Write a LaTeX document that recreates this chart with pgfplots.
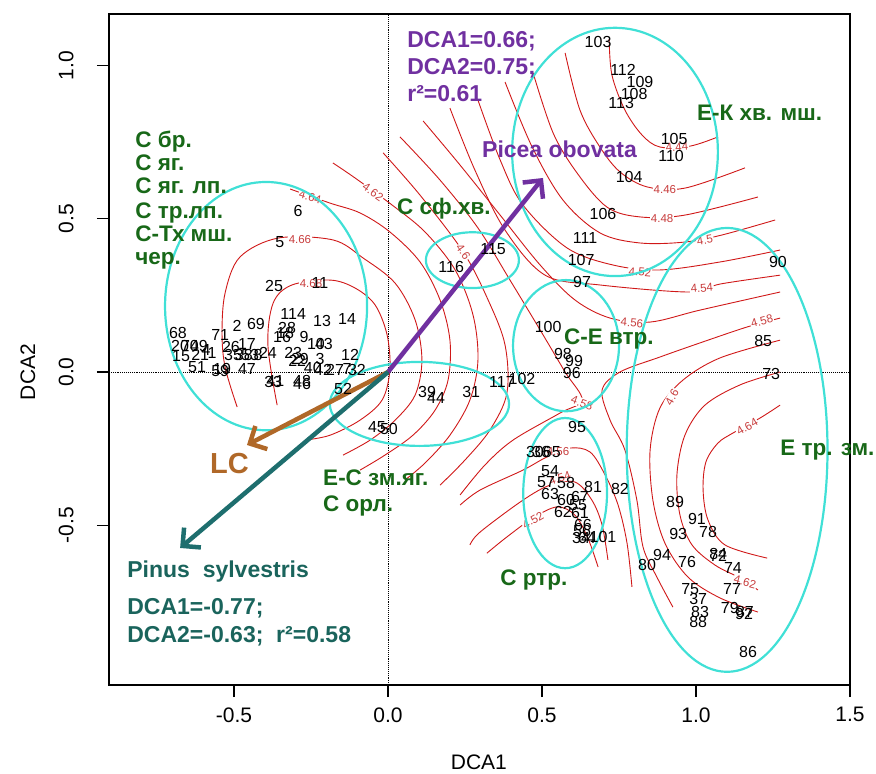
\documentclass[border=0pt]{standalone}
\usepackage{fontspec}
\setmainfont{Liberation Sans}
\usepackage{pgfplots}
\pgfplotsset{compat=1.18}
\usetikzlibrary{arrows.meta}
\definecolor{ellc}{RGB}{64,224,214}
\definecolor{contc}{RGB}{208,24,24}
\definecolor{clab}{RGB}{200,60,60}
\definecolor{grp}{RGB}{24,104,24}
\definecolor{purp}{RGB}{112,48,160}
\definecolor{pinus}{RGB}{26,100,92}
\definecolor{pinarr}{RGB}{30,110,110}
\definecolor{lcc}{RGB}{176,104,40}
\newcommand\gfont{\fontsize{22.5}{22.5}\selectfont\bfseries}
\newcommand\pfont{\fontsize{23}{23}\selectfont\bfseries}
\newcommand\cl{\fontsize{11.5}{11.5}\selectfont}
\begin{document}
\begin{tikzpicture}
\useasboundingbox (-109pt,-89pt) rectangle (767pt,685pt);
\begin{axis}[
  at={(0pt,0pt)}, anchor=south west,
  width=741pt, height=671pt, scale only axis,
  xmin=-0.906, xmax=1.5, ymin=-1.021, ymax=1.168,
  xtick={-0.5,0,0.5,1,1.5}, ytick={-0.5,0,0.5,1},
  xticklabels={-0.5,0.0,0.5,1.0,1.5}, yticklabels={-0.5,0.0,0.5,1.0},
  tick pos=left, tick align=outside, major tick length=12pt,
  every tick/.style={black, line width=1.2pt},
  axis line style={line width=1.2pt},
  ticklabel style={font=\fontsize{21}{21}\selectfont},
  xticklabel style={yshift=-7pt},
  yticklabel style={rotate=90, anchor=south, yshift=20pt},
  clip=false,
  cont/.style={contc, line width=0.9pt, smooth, tension=0.55, mark=none},
]
% reference lines
\draw[densely dotted, line width=0.9pt] (axis cs:0,-1.021) -- (axis cs:0,1.168);
\draw[densely dotted, line width=0.9pt] (axis cs:-0.906,0) -- (axis cs:1.5,0);

% contours around the upper right minimum
\addplot[cont] coordinates {(0.718,1.086) (0.727,0.969) (0.769,0.855) (0.825,0.773) (0.883,0.734) (0.981,0.737) (1.071,0.767)};
\addplot[cont] coordinates {(0.575,1.041) (0.623,0.855) (0.688,0.734) (0.753,0.653) (0.841,0.604) (0.964,0.600) (1.159,0.666)};
\addplot[cont] coordinates {(0.471,0.976) (0.536,0.780) (0.614,0.649) (0.711,0.538) (0.818,0.506) (0.964,0.512) (1.201,0.571)};
\addplot[cont] coordinates {(0.380,0.946) (0.468,0.734) (0.568,0.561) (0.688,0.454) (0.818,0.421) (0.964,0.424) (1.084,0.447) (1.257,0.496)};
\addplot[cont] coordinates {(0.292,0.887) (0.364,0.692) (0.438,0.545) (0.581,0.405) (0.731,0.349) (0.883,0.333) (1.078,0.359) (1.273,0.398)};
\addplot[cont] coordinates {(0.201,0.861) (0.282,0.659) (0.380,0.463) (0.510,0.316) (0.688,0.284) (0.981,0.261) (1.078,0.287) (1.273,0.316)};
\addplot[cont] coordinates {(0.114,0.819) (0.234,0.675) (0.364,0.512) (0.494,0.349) (0.607,0.235) (0.721,0.176) (0.851,0.163) (1.013,0.202) (1.273,0.261)};
% 4.58 right piece
\addplot[cont] coordinates {(1.273,0.176) (1.166,0.147) (1.013,0.095) (0.883,0.049) (0.753,0.000) (0.695,-0.059) (0.721,-0.157) (0.769,-0.254) (0.808,-0.418) (0.828,-0.571) (0.873,-0.669) (0.925,-0.767)};
% left family
\addplot[cont] coordinates {(0.039,0.767) (0.169,0.626) (0.292,0.470) (0.396,0.300) (0.494,0.137) (0.575,0.000) (0.630,-0.091) (0.558,-0.134) (0.406,-0.222) (0.315,-0.303) (0.234,-0.401)};
\addplot[cont] coordinates {(-0.016,0.715) (0.104,0.577) (0.244,0.392) (0.325,0.235) (0.380,0.088) (0.386,-0.069) (0.331,-0.189) (0.250,-0.287) (0.169,-0.369)};
\addplot[cont] coordinates {(-0.179,0.682) (-0.107,0.633) (0.013,0.545) (0.120,0.457) (0.218,0.333) (0.276,0.186) (0.292,0.039) (0.266,-0.091) (0.201,-0.206) (0.120,-0.297) (0.055,-0.352)};
\addplot[cont] coordinates {(-0.318,0.597) (-0.188,0.551) (-0.091,0.519) (0.006,0.457) (0.104,0.359) (0.169,0.235) (0.201,0.104) (0.195,-0.026) (0.153,-0.124) (0.081,-0.206) (-0.010,-0.271) (-0.091,-0.320)};
\addplot[cont] coordinates {(-0.490,-0.114) (-0.529,0.016) (-0.539,0.127) (-0.529,0.258) (-0.481,0.375) (-0.357,0.437) (-0.179,0.431) (-0.081,0.372) (0.023,0.290) (0.088,0.170) (0.110,0.039) (0.088,-0.075) (0.023,-0.157) (-0.058,-0.222) (-0.146,-0.271)};
\addplot[cont] coordinates {(-0.360,-0.108) (-0.390,0.088) (-0.373,0.225) (-0.312,0.284) (-0.188,0.300) (-0.107,0.274) (-0.042,0.219) (-0.003,0.121) (0.006,0.007) (-0.019,-0.091) (-0.091,-0.157) (-0.188,-0.206) (-0.269,-0.222)};
% lower middle
\addplot[cont] coordinates {(0.234,-0.434) (0.299,-0.385) (0.438,-0.320) (0.516,-0.277) (0.591,-0.248) (0.656,-0.261) (0.705,-0.336) (0.747,-0.434) (0.776,-0.558) (0.792,-0.701)};
\addplot[cont] coordinates {(0.266,-0.564) (0.299,-0.522) (0.438,-0.418) (0.526,-0.369) (0.607,-0.359) (0.662,-0.418) (0.695,-0.499) (0.714,-0.613)};
\addplot[cont] coordinates {(0.321,-0.591) (0.386,-0.538) (0.471,-0.476) (0.549,-0.440) (0.607,-0.467) (0.649,-0.542) (0.682,-0.636)};
% lower right maximum
\addplot[cont] coordinates {(1.273,0.104) (1.078,0.046) (0.958,-0.026) (0.883,-0.117) (0.851,-0.254) (0.860,-0.418) (0.899,-0.558) (0.974,-0.669) (1.078,-0.737) (1.201,-0.783)};
\addplot[cont] coordinates {(1.273,0.000) (1.143,-0.042) (1.029,-0.108) (0.964,-0.206) (0.938,-0.336) (0.948,-0.467) (0.987,-0.564) (1.062,-0.630) (1.143,-0.672) (1.201,-0.711)};
\addplot[cont] coordinates {(1.273,-0.108) (1.208,-0.150) (1.120,-0.199) (1.071,-0.232) (1.032,-0.294) (1.023,-0.385) (1.039,-0.483) (1.094,-0.564) (1.231,-0.607)};

% contour labels
\begin{scope}[every node/.style={clab, font=\cl, fill=white, inner sep=0.8pt}]
\node[rotate=5] at (axis cs:0.938,0.734) {4.44};
\node at (axis cs:0.899,0.594) {4.46};
\node at (axis cs:0.890,0.502) {4.48};
\node[rotate=10] at (axis cs:1.029,0.431) {4.5};
\node[rotate=-5] at (axis cs:0.818,0.326) {4.52};
\node[rotate=5] at (axis cs:1.019,0.274) {4.54};
\node[rotate=-5] at (axis cs:0.792,0.160) {4.56};
\node[rotate=15] at (axis cs:1.214,0.166) {4.58};
\node[rotate=-20] at (axis cs:0.630,-0.101) {4.58};
\node[rotate=-55] at (axis cs:0.244,0.392) {4.6};
\node[rotate=-35] at (axis cs:-0.049,0.587) {4.62};
\node[rotate=-15] at (axis cs:-0.253,0.571) {4.64};
\node at (axis cs:-0.286,0.431) {4.66};
\node at (axis cs:-0.250,0.290) {4.68};
\node[rotate=60] at (axis cs:0.922,-0.082) {4.6};
\node[rotate=-15] at (axis cs:1.159,-0.685) {4.62};
\node[rotate=30] at (axis cs:1.166,-0.179) {4.64};
\node at (axis cs:0.552,-0.261) {4.56};
\node[rotate=20] at (axis cs:0.558,-0.346) {4.54};
\node[rotate=30] at (axis cs:0.471,-0.483) {4.52};
\end{scope}

% ellipses
\draw[ellc, line width=2.2pt] (axis cs:-0.396,0.215) ellipse [x radius=0.328, y radius=0.405];
\draw[ellc, line width=2.2pt] (axis cs:0.737,0.718) ellipse [x radius=0.334, y radius=0.405];
\draw[ellc, line width=2.2pt] (axis cs:0.274,0.365) ellipse [x radius=0.151, y radius=0.091];
\draw[ellc, line width=2.2pt] (axis cs:0.578,0.086) ellipse [x radius=0.172, y radius=0.214];
\draw[ellc, line width=2.2pt] (axis cs:0.102,-0.104) ellipse [x radius=0.291, y radius=0.137];
\draw[ellc, line width=2.2pt] (axis cs:0.575,-0.395) ellipse [x radius=0.136, y radius=0.245];
\draw[ellc, line width=2.2pt] (axis cs:1.101,-0.254) ellipse [x radius=0.326, y radius=0.724];

% point labels
\addplot[draw=none, mark=none, nodes near coords, point meta=explicit symbolic,
  every node near coord/.append style={anchor=center, font=\fontsize{16}{16}\selectfont, inner sep=0pt, text=black}]
  table[meta=lab, row sep=\\] {
x y lab\\
0.682 1.077 103\\
0.763 0.985 112\\
0.818 0.946 109\\
0.799 0.907 108\\
0.757 0.878 113\\
0.929 0.760 105\\
0.919 0.705 110\\
0.783 0.636 104\\
0.698 0.516 106\\
0.640 0.437 111\\
0.627 0.365 107\\
0.630 0.294 97\\
1.266 0.359 90\\
1.218 0.101 85\\
1.244 -0.007 73\\
0.205 0.343 116\\
0.341 0.401 115\\
0.520 0.147 100\\
0.568 0.059 98\\
0.604 0.036 99\\
0.597 -0.003 96\\
0.435 -0.023 102\\
0.370 -0.033 117\\
0.127 -0.065 39\\
0.156 -0.085 44\\
0.270 -0.065 31\\
-0.036 -0.179 45\\
0.003 -0.186 50\\
-0.146 -0.055 52\\
0.614 -0.179 95\\
0.477 -0.261 30\\
0.497 -0.261 36\\
0.532 -0.261 65\\
0.526 -0.323 54\\
0.513 -0.359 57\\
0.578 -0.362 58\\
0.526 -0.398 63\\
0.666 -0.375 81\\
0.753 -0.382 82\\
0.578 -0.418 60\\
0.623 -0.408 67\\
0.617 -0.434 55\\
0.568 -0.457 62\\
0.623 -0.460 61\\
0.633 -0.499 66\\
0.630 -0.519 56\\
0.627 -0.542 34\\
0.646 -0.542 64\\
0.698 -0.538 101\\
0.932 -0.424 89\\
1.003 -0.480 91\\
1.039 -0.522 78\\
0.942 -0.529 93\\
0.890 -0.597 94\\
0.971 -0.620 76\\
0.841 -0.630 80\\
1.072 -0.594 84\\
1.072 -0.600 72\\
1.120 -0.640 74\\
1.117 -0.708 77\\
0.981 -0.708 75\\
1.007 -0.741 37\\
1.110 -0.770 79\\
1.159 -0.783 87\\
1.156 -0.790 92\\
1.013 -0.783 83\\
1.007 -0.816 88\\
1.169 -0.914 86\\
-0.292 0.525 6\\
-0.351 0.424 5\\
-0.370 0.281 25\\
-0.221 0.290 11\\
-0.308 0.189 114\\
-0.214 0.166 13\\
-0.133 0.173 14\\
-0.490 0.150 2\\
-0.429 0.157 69\\
-0.328 0.144 28\\
-0.344 0.114 16\\
-0.334 0.127 18\\
-0.273 0.114 9\\
-0.234 0.091 10\\
-0.208 0.091 43\\
-0.123 0.055 12\\
-0.682 0.127 68\\
-0.675 0.085 20\\
-0.643 0.085 70\\
-0.614 0.085 49\\
-0.591 0.072 4\\
-0.672 0.052 15\\
-0.610 0.055 21\\
-0.571 0.062 1\\
-0.620 0.015 51\\
-0.545 0.121 71\\
-0.458 0.091 17\\
-0.510 0.082 26\\
-0.503 0.055 35\\
-0.468 0.055 38\\
-0.448 0.055 53\\
-0.422 0.055 8\\
-0.545 0.003 59\\
-0.539 0.010 19\\
-0.458 0.010 47\\
-0.390 0.062 24\\
-0.308 0.062 23\\
-0.295 0.036 22\\
-0.286 0.042 29\\
-0.221 0.042 3\\
-0.244 0.013 40\\
-0.211 0.007 42\\
-0.172 0.007 27\\
-0.133 0.010 7\\
-0.101 0.007 32\\
-0.373 -0.033 33\\
-0.366 -0.030 41\\
-0.279 -0.029 48\\
-0.279 -0.040 46\\
};

% arrows
\addplot[purp, line width=4.5pt, mark=none, -{Straight Barb[length=13pt,width=26pt]}] coordinates {(0,0) (0.503,0.633)};
\addplot[lcc, line width=4.5pt, mark=none, -{Straight Barb[length=13pt,width=26pt]}] coordinates {(0,0) (-0.458,-0.238)};
\addplot[pinarr, line width=4.5pt, mark=none, -{Straight Barb[length=13pt,width=26pt]}] coordinates {(0,0) (-0.675,-0.574)};

% group labels
\begin{scope}[every node/.style={grp, font=\gfont, anchor=base west, inner sep=0pt}]
\node at (axis cs:-0.821,0.731) {С бр.};
\node at (axis cs:-0.821,0.656) {С яг.};
\node at (axis cs:-0.821,0.581) {С яг. лп.};
\node at (axis cs:-0.821,0.502) {С тр.лп.};
\node at (axis cs:-0.821,0.427) {С-Тх мш.};
\node at (axis cs:-0.821,0.352) {чер.};
\node at (axis cs:0.029,0.515) {С сф.хв.};
\node at (axis cs:1.003,0.822) {Е-К хв. мш.};
\node at (axis cs:0.571,0.090) {С-Е втр.};
\node at (axis cs:1.273,-0.272) {Е тр. зм.};
\node at (axis cs:-0.211,-0.370) {Е-С зм.яг.};
\node at (axis cs:-0.211,-0.455) {С орл.};
\node at (axis cs:0.364,-0.697) {С ртр.};
\end{scope}
\begin{scope}[every node/.style={purp, font=\pfont, anchor=base west, inner sep=0pt}]
\node at (axis cs:0.062,1.060) {DCA1=0.66;};
\node at (axis cs:0.062,0.969) {DCA2=0.75;};
\node at (axis cs:0.062,0.884) {r²=0.61};
\node at (axis cs:0.305,0.701) {Picea obovata};
\end{scope}
\begin{scope}[every node/.style={pinus, font=\pfont, anchor=base west, inner sep=0pt}]
\node at (axis cs:-0.847,-0.669) {Pinus\ \ sylvestris};
\node at (axis cs:-0.847,-0.790) {DCA1=-0.77;};
\node at (axis cs:-0.847,-0.881) {DCA2=-0.63;\ \ r²=0.58};
\end{scope}
\node[lcc, font=\fontsize{29}{29}\selectfont\bfseries, anchor=base west, inner sep=0pt] at (axis cs:-0.578,-0.330) {LC};

% axis titles
\node[font=\fontsize{21}{21}\selectfont] at (axis cs:0.295,-1.272) {DCA1};
\node[font=\fontsize{21}{21}\selectfont, rotate=90] at (axis cs:-1.169,0) {DCA2};
\end{axis}
\end{tikzpicture}
\end{document}
